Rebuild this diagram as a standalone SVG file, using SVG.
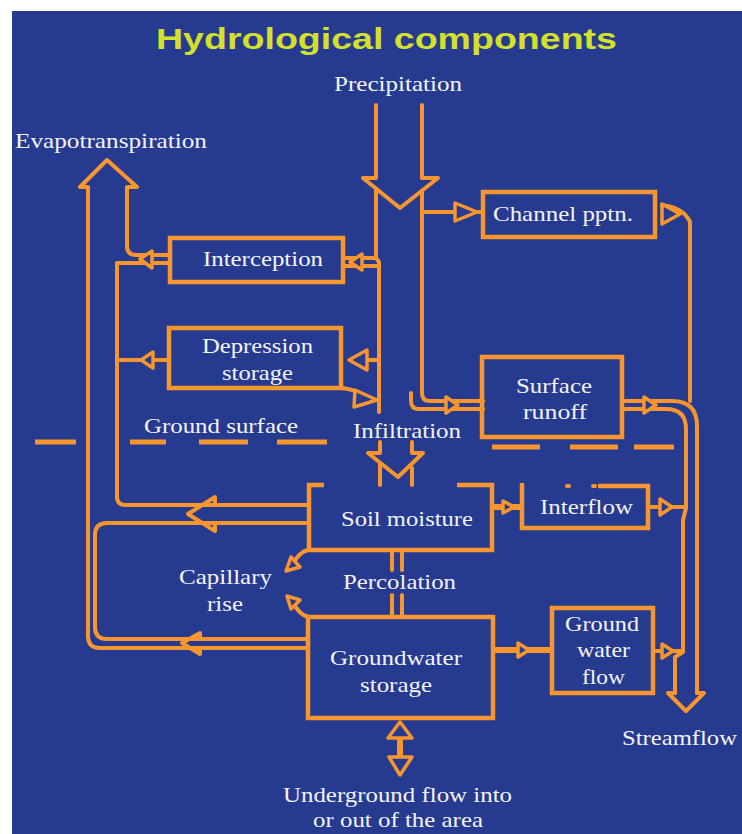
<svg xmlns="http://www.w3.org/2000/svg" width="742" height="834" viewBox="0 0 742 834">
  <style>
    .ln { fill: none; stroke: #F7962F; stroke-width: 4; stroke-linejoin: round; stroke-linecap: round; }
    .thk { fill: none; stroke: #F7962F; stroke-width: 6; stroke-linecap: butt; }
    .box { fill: none; stroke: #F7962F; stroke-width: 4.5; stroke-linejoin: miter; }
    .ah { fill: #263A90; stroke: #F7962F; stroke-width: 3.5; stroke-linejoin: round; }
    .dash { fill: none; stroke: #F7962F; stroke-width: 5; }
    .t { font-family: "Liberation Serif", "Times New Roman", serif; font-size: 21px; fill: #F3F3FA; }
    .title { font-family: "Liberation Sans", Arial, sans-serif; font-size: 30px; font-weight: bold; fill: #D4E02C; }
  </style>

  <!-- page and panel -->
  <rect x="0" y="0" width="742" height="834" fill="#FFFFFF"/>
  <rect x="12" y="11" width="730" height="823" fill="#263A90"/>

  <text class="title" x="156" y="49" textLength="461" lengthAdjust="spacingAndGlyphs">Hydrological components</text>

  <!-- ground surface line -->
  <g id="ground-surface">
    <path class="dash" d="M35,442 H76 M130,442 H166 M199,442 H248 M277,442 H327 M492,447 H540 M570,447 H618 M634,447 H674"/>
    <text class="t" x="144" y="433" textLength="154" lengthAdjust="spacingAndGlyphs">Ground surface</text>
  </g>

  <!-- flow connectors -->
  <g id="connectors">
    <!-- precipitation inflow -->
    <path class="ln" d="M376,105 V178 H363 L400,208 L438,178 H422 V105"/>
    <path class="ln" d="M376,189 V258 L379,262 V412"/>
    <path class="ln" d="M422,191 V393 Q422,401 430,401 H483"/>
    <path class="ln" d="M411,393 V401 Q411,409 419,409 H483"/>
    <polygon class="ah" points="446,397 458,405 446,413"/>

    <!-- to channel precipitation -->
    <path class="ln" d="M422,212 H483"/>
    <polygon class="ah" points="455,203 477,212 455,221"/>

    <!-- channel precipitation to streamflow -->
    <path class="ln" d="M662,205 Q684,208 690,222 V401"/>
    <polygon class="ah" points="662,204 680,214 662,224"/>

    <!-- surface runoff to streamflow -->
    <path class="ln" d="M623,401 H672 Q697,401 697,426 V693"/>
    <path class="ln" d="M623,409 H666 Q686,409 686,429 V508 L683,520 V652 L675,657 V693"/>
    <polygon class="ah" points="644,397 656,405 644,413"/>

    <!-- streamflow outlet -->
    <path class="ln" d="M675,693 H668 L686,711 L704,693 H697"/>

    <!-- interflow to streamflow -->
    <path class="ln" d="M648,507 H684"/>
    <polygon class="ah" points="660,499 672,507 660,515"/>

    <!-- groundwater flow to streamflow -->
    <path class="ln" d="M653,651 H683"/>
    <polygon class="ah" points="662,644 673,651 662,658"/>

    <!-- interception supply from precipitation -->
    <path class="ln" d="M343,258 H376 M343,266 H379"/>
    <polygon class="ah" points="362,254 350,262 362,270"/>

    <!-- depression storage supply and release -->
    <path class="ln" d="M379,360 H367"/>
    <polygon class="ah" points="367,350 349,360 367,370"/>
    <path class="ln" d="M341,388 Q350,389 355,391"/>
    <polygon class="ah" points="355,390 377,400 354,407"/>

    <!-- evapotranspiration outer loop (groundwater + interception) -->
    <path class="ln" d="M308,648 H100 Q88,648 88,636 V187 H80 L107,160 L137,187 H127 V246 Q127,255 136,255 H170"/>
    <!-- interception / depression / soil moisture return -->
    <path class="ln" d="M170,263 H117 V497 Q117,505 126,505 H308"/>
    <path class="ln" d="M169,360 H117"/>
    <polygon class="ah" points="153,352 141,360 153,368"/>
    <polygon class="ah" points="152,251 140,259 152,268"/>
    <!-- soil moisture / groundwater return -->
    <path class="ln" d="M308,523 H107 Q95,523 95,535 V627 Q95,639 107,639 H308"/>
    <path class="ln" d="M215,505 V497 L188,514 L215,531 V523"/>
    <path class="ln" d="M200,639 V633 L182,643 L200,654 V648"/>

    <!-- infiltration -->
    <path class="ln" d="M380,442 V453 H368 L398,477 L423,453 H412 V442"/>
    <path class="ln" d="M380,463 V485 M412,468 V485"/>

    <!-- soil moisture to interflow -->
    <path class="thk" d="M492,507 H522"/>
    <polygon class="ah" points="503,501 514,507 503,513"/>

    <!-- percolation -->
    <path class="ln" d="M392,550 V570 M402,550 V570 M392,595 V617 M402,595 V617"/>

    <!-- capillary rise -->
    <path class="ln" d="M308,550 Q299,552 293,564"/>
    <polygon class="ah" points="286,571 291,557 300,567"/>
    <path class="ln" d="M308,617 Q299,614 294,604"/>
    <polygon class="ah" points="287,596 300,600 291,609"/>

    <!-- groundwater storage to groundwater flow -->
    <path class="thk" d="M493,650 H552"/>
    <polygon class="ah" points="518,643 529,650 518,657"/>

    <!-- underground exchange -->
    <path class="thk" d="M400,738 V757"/>
    <polygon class="ah" points="400,722 388,738 412,738"/>
    <polygon class="ah" points="389,757 412,757 400,775"/>
  </g>

  <!-- nodes -->
  <g id="interception">
    <rect class="box" x="170" y="238" width="173" height="44"/>
    <text class="t" x="203" y="266" textLength="120" lengthAdjust="spacingAndGlyphs">Interception</text>
  </g>

  <g id="depression-storage">
    <rect class="box" x="169" y="328" width="172" height="60"/>
    <text class="t" x="202" y="353" textLength="111" lengthAdjust="spacingAndGlyphs">Depression</text>
    <text class="t" x="222" y="380" textLength="71" lengthAdjust="spacingAndGlyphs">storage</text>
  </g>

  <g id="channel-pptn">
    <rect class="box" x="483" y="192" width="172" height="45"/>
    <text class="t" x="493" y="221" textLength="140" lengthAdjust="spacingAndGlyphs">Channel pptn.</text>
  </g>

  <g id="surface-runoff">
    <rect class="box" x="482" y="357" width="140" height="80"/>
    <text class="t" x="516" y="393" textLength="76" lengthAdjust="spacingAndGlyphs">Surface</text>
    <text class="t" x="523" y="419" textLength="64" lengthAdjust="spacingAndGlyphs">runoff</text>
  </g>

  <g id="soil-moisture">
    <path class="box" d="M324,485 H309 V550 H492 V485 H457"/>
    <text class="t" x="341" y="526" textLength="132" lengthAdjust="spacingAndGlyphs">Soil moisture</text>
  </g>

  <g id="interflow">
    <path class="box" d="M522,483 V528 H648 V486 H598"/>
    <path class="ln" d="M567,486 H569 M593,486 H595"/>
    <text class="t" x="540" y="514" textLength="93" lengthAdjust="spacingAndGlyphs">Interflow</text>
  </g>

  <g id="groundwater-storage">
    <rect class="box" x="308" y="617" width="185" height="101"/>
    <text class="t" x="330" y="665" textLength="132" lengthAdjust="spacingAndGlyphs">Groundwater</text>
    <text class="t" x="360" y="692" textLength="72" lengthAdjust="spacingAndGlyphs">storage</text>
  </g>

  <g id="groundwater-flow">
    <rect class="box" x="552" y="608" width="101" height="85"/>
    <text class="t" x="565" y="631" textLength="74" lengthAdjust="spacingAndGlyphs">Ground</text>
    <text class="t" x="577" y="657" textLength="53" lengthAdjust="spacingAndGlyphs">water</text>
    <text class="t" x="582" y="684" textLength="43" lengthAdjust="spacingAndGlyphs">flow</text>
  </g>

  <!-- process labels -->
  <g id="precipitation">
    <text class="t" x="334" y="91" textLength="128" lengthAdjust="spacingAndGlyphs">Precipitation</text>
  </g>
  <g id="evapotranspiration">
    <text class="t" x="15" y="148" textLength="192" lengthAdjust="spacingAndGlyphs">Evapotranspiration</text>
  </g>
  <g id="infiltration">
    <text class="t" x="353" y="438" textLength="108" lengthAdjust="spacingAndGlyphs">Infiltration</text>
  </g>
  <g id="percolation">
    <text class="t" x="343" y="589" textLength="113" lengthAdjust="spacingAndGlyphs">Percolation</text>
  </g>
  <g id="capillary-rise">
    <text class="t" x="179" y="584" textLength="93" lengthAdjust="spacingAndGlyphs">Capillary</text>
    <text class="t" x="207" y="611" textLength="36" lengthAdjust="spacingAndGlyphs">rise</text>
  </g>
  <g id="streamflow">
    <text class="t" x="622" y="745" textLength="115" lengthAdjust="spacingAndGlyphs">Streamflow</text>
  </g>
  <g id="underground-flow">
    <text class="t" x="283" y="802" textLength="229" lengthAdjust="spacingAndGlyphs">Underground flow into</text>
    <text class="t" x="313" y="827" textLength="170" lengthAdjust="spacingAndGlyphs">or out of the area</text>
  </g>
</svg>
